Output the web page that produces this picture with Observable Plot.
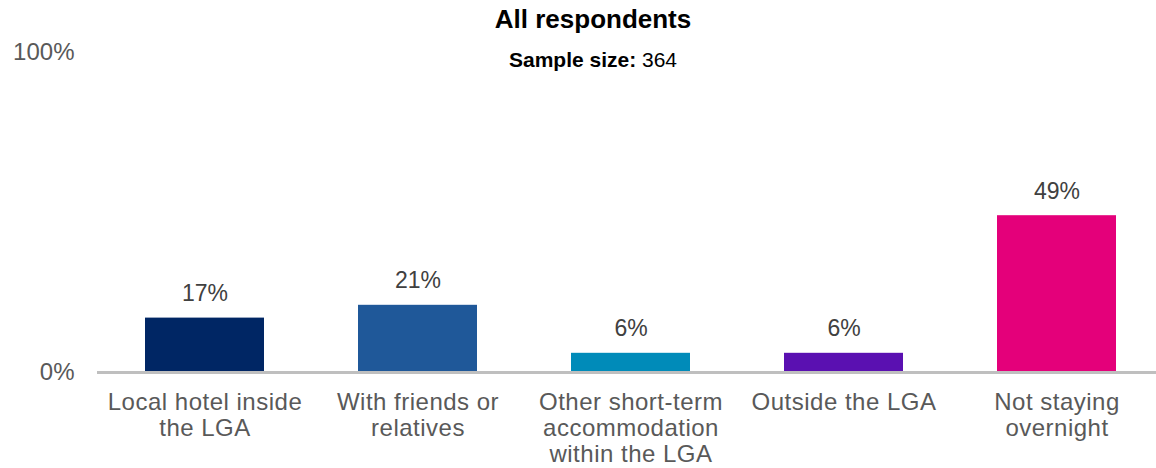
<!DOCTYPE html>
<html>
<head>
<meta charset="utf-8">
<script src="https://cdn.jsdelivr.net/npm/d3@7"></script>
<script src="https://cdn.jsdelivr.net/npm/@observablehq/plot@0.6"></script>
<style>
  html, body { margin: 0; padding: 0; background: #fff; }
  #chart { position: relative; width: 1156px; height: 468px; font-family: "Liberation Sans", Arial, sans-serif; }
  #chart svg { position: absolute; left: 0; top: 0; }
  .title { position: absolute; left: 593px; transform: translateX(-50%); white-space: nowrap; color: #000; z-index: 1; }
  .title.main { top: 6px; font-size: 26px; line-height: 26px; font-weight: bold; }
  .title.sub { top: 49px; font-size: 21px; line-height: 21px; }
</style>
</head>
<body>
<div id="chart">
  <div class="title main">All respondents</div>
  <div class="title sub"><b>Sample size:</b> 364</div>
</div>
<script>
// Where respondents are staying (share of all respondents, %)
const categories = [
  "Local hotel inside\nthe LGA",
  "With friends or\nrelatives",
  "Other short-term\naccommodation\nwithin the LGA",
  "Outside the LGA",
  "Not staying\novernight"
];
const shares = [17, 21, 6, 6, 49];
const yTicks = [0, 100];
const palette = ["#002664", "#1f5899", "#008bb9", "#5a10b1", "#e4007a"];

const data = categories.map((category, i) => ({category, share: shares[i]}));

const chart = Plot.plot({
  width: 1156,
  height: 468,
  marginTop: 52,
  marginBottom: 96,
  marginLeft: 97,
  marginRight: 0,
  style: {
    fontFamily: "'Liberation Sans', Arial, sans-serif",
    fontSize: "24px",
    color: "#595959",
    background: "transparent"
  },
  x: {domain: categories, paddingInner: 0.443, paddingOuter: 0.2016, align: 0.546, label: null},
  y: {domain: [0, 100], label: null},
  color: {domain: categories, range: palette},
  marks: [
    Plot.barY(data, {x: "category", y: "share", fill: "category"}),
    Plot.ruleY([0], {stroke: "#bfbfbf", strokeWidth: 3}),
    Plot.text(data, {
      x: "category",
      y: "share",
      text: d => `${d.share}%`,
      lineAnchor: "bottom",
      dy: -17,
      fill: "#404040",
      fontSize: 23,
      style: "letter-spacing: 0.3px"
    }),
    Plot.axisY(yTicks, {tickSize: 0, tickPadding: 23, tickFormat: d => `${d}%`, fontSize: 24}),
    Plot.axisX({tickSize: 0, tickPadding: 19, lineHeight: 1.09, fontSize: 24})
  ]
});

// slightly wider tracking on the category labels
chart.querySelectorAll("[aria-label='x-axis tick label'] text").forEach(t => t.style.letterSpacing = "0.5px");

document.getElementById("chart").appendChild(chart);
</script>
</body>
</html>
